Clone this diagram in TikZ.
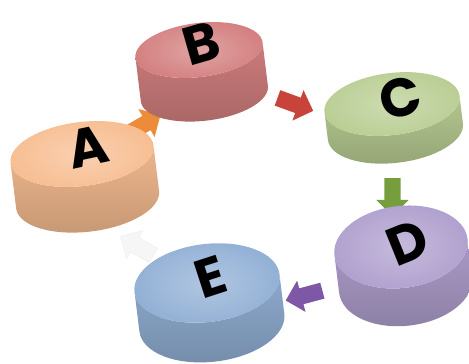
\documentclass[tikz,border=0pt]{standalone}
\usepackage{fontspec}
\setsansfont{Poppins}
\usetikzlibrary{shapes.arrows,calc,backgrounds}

\definecolor{peach}{RGB}{247,190,146}
\definecolor{rose}{RGB}{212,128,128}
\definecolor{sage}{RGB}{186,206,148}
\definecolor{lilac}{RGB}{176,160,206}
\definecolor{sky}{RGB}{146,176,213}
\definecolor{orangeflow}{RGB}{236,140,58}
\definecolor{redflow}{RGB}{200,68,58}
\definecolor{greenflow}{RGB}{118,158,60}
\definecolor{purpleflow}{RGB}{126,88,166}

\tikzset{
  flow/.style={single arrow, draw=none, minimum height=38pt, text height=8pt, text depth=8pt,
    single arrow head extend=8pt, inner sep=0pt},
  letter/.style={font=\sffamily\bfseries\fontsize{54}{54}\selectfont, inner sep=0pt}
}

\begin{document}
\begin{tikzpicture}[x=1pt,y=1pt]
\useasboundingbox (0,0) rectangle (469,364);
% discs: name/x/y/x radius/y radius/side/colour
\foreach \n/\x/\y/\rx/\ry/\h/\c in {A/82/210/72/32/46/peach, B/199/314/64/27/44/rose,
    C/392/260/68/31/28/sage, D/401/117/67/41/38/lilac, E/207/81/73/39/40/sky}{
  \begin{scope}[shift={(\x,\y)}, rotate=7]
    \shade[top color=\c!96!black, middle color=\c!90!black, bottom color=\c!80!black]
      (-\rx,0) -- (-\rx,-\h) arc[start angle=180, end angle=360, x radius=\rx, y radius=\ry]
      -- (\rx,0) arc[start angle=0, end angle=-180, x radius=\rx, y radius=\ry] -- cycle;
    \shade[inner color=\c!72!white, outer color=\c] (0,0) ellipse[x radius=\rx, y radius=\ry];
  \end{scope}
  \coordinate (disc\n) at ($(\x,\y)-(0,\h/2)$);
}

\node[letter, rotate=12] (A) at (88,217) {A};
\node[letter, rotate=16] (B) at (201,321) {B};
\node[letter, rotate=15] (C) at (400,266) {C};
\node[letter, rotate=22] (D) at (408,121) {D};
\node[letter, rotate=18] (E) at (211,87) {E};

% arrows go behind the discs
\begin{pgfonlayer}{background}
  \node[flow, fill=orangeflow, rotate=30] (AtoB) at ($(discA)!.5!(discB)+(0,-2)$) {};
  \node[flow, fill=redflow, rotate=-20] (BtoC) at ($(discB)!.5!(discC)+(-4,-8)$) {};
  \node[flow, fill=greenflow, rotate=-90] (CtoD) at ($(discC)!.5!(discD)+(-4,-1)$) {};
  \node[flow, fill=purpleflow, rotate=195] (DtoE) at ($(discD)!.5!(discE)+(4,-10)$) {};
  \node[flow, fill=gray!7, draw=gray!15, rotate=150] (EtoA) at ($(discE)!.5!(discA)+(-4,-8)$) {};
\end{pgfonlayer}
\end{tikzpicture}
\end{document}
